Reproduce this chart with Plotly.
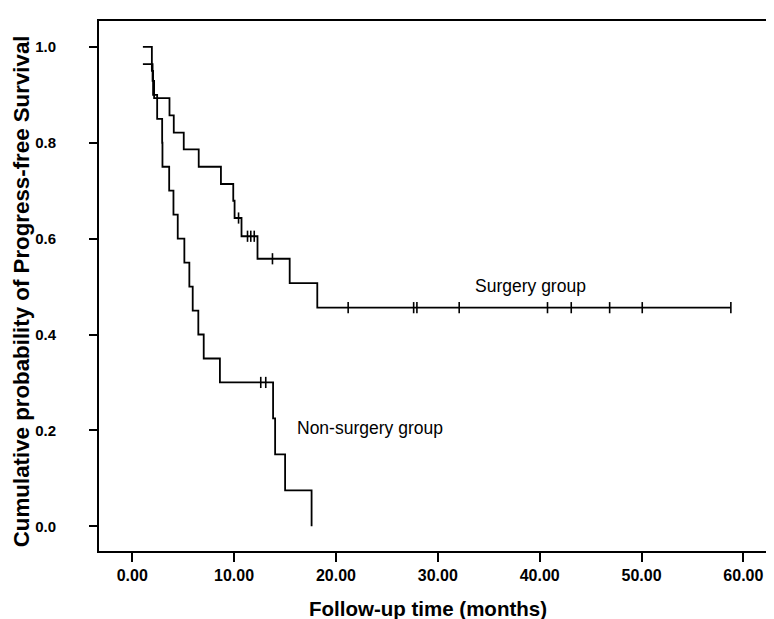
import numpy as np
import plotly.graph_objects as go

# ---- data ----
surgery_times = [1.05, 2.00, 2.15, 3.66, 4.08, 5.06, 6.53, 8.71, 9.92, 10.05, 10.73, 12.30, 15.46, 18.17]
surgery_surv = [0.964, 0.929, 0.893, 0.857, 0.821, 0.786, 0.750, 0.714, 0.679, 0.643, 0.605, 0.558, 0.507, 0.456]
surgery_end = 58.77
surgery_censor = [10.44, 11.32, 11.64, 11.98, 13.77, 21.2, 27.63, 27.95, 32.1, 40.77, 43.1, 46.87, 50.07, 58.77]

nonsurg_times = [1.05, 1.93, 2.05, 2.45, 2.94, 2.97, 3.63, 4.05, 4.47, 5.12, 5.61, 5.94, 6.49, 7.02, 8.61,
                 13.83, 14.03, 15.01, 17.61]
nonsurg_surv = [1.0, 0.95, 0.90, 0.85, 0.80, 0.75, 0.70, 0.65, 0.60, 0.55, 0.50, 0.45, 0.40, 0.35, 0.30,
                0.225, 0.15, 0.075, 0.0]
nonsurg_censor = [12.62, 13.11]

x_ticks = [0, 10, 20, 30, 40, 50, 60]
y_ticks = [0.0, 0.2, 0.4, 0.6, 0.8, 1.0]


def step_at(times, surv, t):
    i = np.searchsorted(np.array(times), t, side="right") - 1
    return surv[max(i, 0)]


FONT = "Arial, Liberation Sans, sans-serif"
CENSOR = dict(symbol="line-ns-open", size=8, color="black", line=dict(color="black", width=1.6))
fig = go.Figure()

# Surgery group curve
fig.add_trace(go.Scatter(
    x=surgery_times + [surgery_end], y=surgery_surv + [surgery_surv[-1]],
    mode="lines", line=dict(color="black", width=1.8, shape="hv"), showlegend=False))
fig.add_trace(go.Scatter(
    x=surgery_censor, y=[step_at(surgery_times, surgery_surv, t) for t in surgery_censor],
    mode="markers", marker=CENSOR, showlegend=False))

# Non-surgery group curve
fig.add_trace(go.Scatter(
    x=nonsurg_times, y=nonsurg_surv,
    mode="lines", line=dict(color="black", width=1.8, shape="hv"), showlegend=False))
fig.add_trace(go.Scatter(
    x=nonsurg_censor, y=[step_at(nonsurg_times, nonsurg_surv, t) for t in nonsurg_censor],
    mode="markers", marker=CENSOR, showlegend=False))

fig.add_annotation(x=33.5, y=0.502, text="Surgery group", showarrow=False, xanchor="left",
                   yanchor="middle", font=dict(family=FONT, size=17.5, color="black"))
fig.add_annotation(x=16.0, y=0.205, text="Non-surgery group", showarrow=False, xanchor="left",
                   yanchor="middle", font=dict(family=FONT, size=17.5, color="black"))

# axis titles as annotations for precise placement
fig.add_annotation(xref="paper", yref="paper", x=(421 - 91) / 680, y=-(600 - 543) / 530,
                   text="<b>Follow-up time (months)</b>", showarrow=False, xanchor="center",
                   yanchor="middle", font=dict(family=FONT, size=20.5, color="black"))
fig.add_annotation(xref="paper", yref="paper", x=-(91 - 13) / 680, y=(543 - 283) / 530,
                   text="<b>Cumulative probability of Progress-free Survival</b>", showarrow=False,
                   textangle=-90, xanchor="center", yanchor="middle",
                   font=dict(family=FONT, size=22.3, color="black"))

fig.update_layout(
    width=774, height=619,
    margin=dict(l=91, r=3, t=13, b=76),
    paper_bgcolor="white", plot_bgcolor="white",
    xaxis=dict(range=[-3.26, 63.3], tickvals=x_ticks, tickformat=".2f",
               showgrid=False, zeroline=False, showline=True, linecolor="black", linewidth=2,
               mirror=True, ticks="outside", ticklen=9, tickwidth=2, tickcolor="black",
               tickfont=dict(family=FONT, size=16, color="black", weight="bold")),
    yaxis=dict(range=[-0.0516, 1.054], tickvals=y_ticks, tickformat=".1f",
               showgrid=False, zeroline=False, showline=True, linecolor="black", linewidth=2,
               mirror=True, ticks="outside", ticklen=8, tickwidth=2, tickcolor="black",
               ticklabelstandoff=30,
               tickfont=dict(family=FONT, size=15, color="black", weight="bold")),
)

fig.write_html("out.html")
